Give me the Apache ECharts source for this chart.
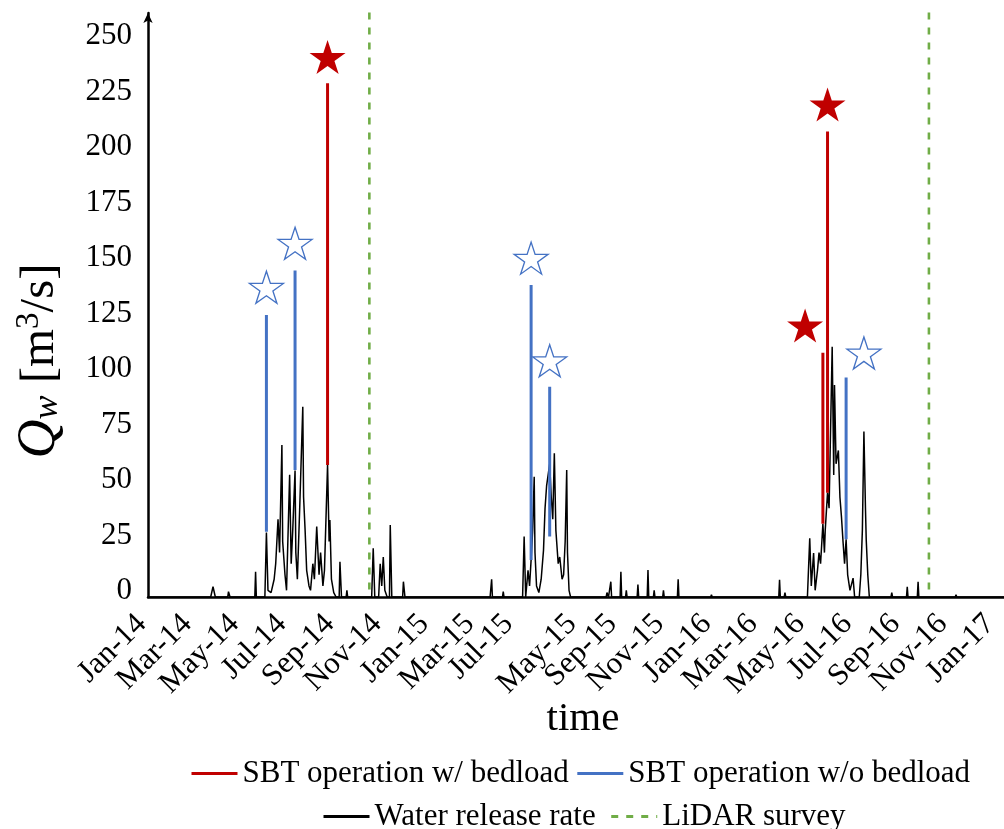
<!DOCTYPE html>
<html>
<head>
<meta charset="utf-8">
<script src="https://cdn.jsdelivr.net/npm/echarts@6/dist/echarts.min.js"></script>
<style>
  html, body { margin: 0; padding: 0; background: #fff; }
  #chart { width: 1004px; height: 829px; }
</style>
</head>
<body>
<div id="chart"></div>
<script>
// ---------------- DATA ----------------
const tickLabels = ['Jan-14','Mar-14','May-14','Jul-14','Sep-14','Nov-14','Jan-15','Mar-15','Jul-15','May-15','Sep-15','Nov-15','Jan-16','Mar-16','May-16','Jul-16','Sep-16','Nov-16','Jan-17'];
const tickDates = ['2014-01-01','2014-03-01','2014-05-01','2014-07-01','2014-09-01','2014-11-01','2015-01-01','2015-03-01','2015-04-20','2015-07-11','2015-09-01','2015-11-01','2016-01-01','2016-03-01','2016-05-01','2016-07-01','2016-09-01','2016-11-01','2017-01-01'];
const yTickValues = [0, 25, 50, 75, 100, 125, 150, 175, 200, 225, 250];

// Water release rate (m3/s)
const waterDates = [
 '2014-01-01','2014-03-23','2014-03-26','2014-03-29','2014-04-14','2014-04-15','2014-04-17','2014-05-19','2014-05-20','2014-05-21',
 '2014-06-01','2014-06-03','2014-06-05','2014-06-09','2014-06-13','2014-06-15','2014-06-18','2014-06-20','2014-06-23','2014-06-24',
 '2014-06-27','2014-06-29','2014-07-03','2014-07-05','2014-07-07','2014-07-10','2014-07-11','2014-07-13','2014-07-16','2014-07-20',
 '2014-07-21','2014-07-23','2014-07-25','2014-07-28','2014-07-30','2014-08-02','2014-08-04','2014-08-07','2014-08-10','2014-08-12',
 '2014-08-15','2014-08-17','2014-08-21','2014-08-23','2014-08-24','2014-08-26','2014-08-29','2014-09-01','2014-09-05','2014-09-06',
 '2014-09-08','2014-09-14','2014-09-15','2014-09-16','2014-10-17','2014-10-19','2014-10-21','2014-10-26','2014-10-28','2014-10-30',
 '2014-11-01','2014-11-03','2014-11-06','2014-11-09','2014-11-10','2014-11-12','2014-11-26','2014-11-27','2014-11-29',
 '2015-03-19','2015-03-21','2015-03-22','2015-04-04','2015-04-05','2015-04-06','2015-04-30','2015-05-02','2015-05-04','2015-05-07',
 '2015-05-09','2015-05-11','2015-05-13','2015-05-15','2015-05-16','2015-05-18','2015-05-21','2015-05-24','2015-05-27','2015-05-29',
 '2015-05-31','2015-06-04','2015-06-06','2015-06-08','2015-06-10','2015-06-12','2015-06-13','2015-06-15','2015-06-17','2015-06-20',
 '2015-06-22','2015-06-24','2015-06-26','2015-06-27','2015-06-29','2015-07-01','2015-08-16','2015-08-17','2015-08-19','2015-08-21',
 '2015-08-22','2015-08-23','2015-09-03','2015-09-04','2015-09-05','2015-09-10','2015-09-11','2015-09-12','2015-09-25','2015-09-26',
 '2015-09-27','2015-10-08','2015-10-09','2015-10-10','2015-10-16','2015-10-17','2015-10-18','2015-10-28','2015-10-29','2015-10-30',
 '2015-11-16','2015-11-17','2015-11-18','2015-12-29','2015-12-30','2015-12-31',
 '2016-03-26','2016-03-27','2016-03-28','2016-04-02','2016-04-03','2016-04-04','2016-05-02','2016-05-05','2016-05-07','2016-05-10',
 '2016-05-12','2016-05-15','2016-05-17','2016-05-19','2016-05-22','2016-05-24','2016-05-25','2016-05-28','2016-05-30','2016-05-31',
 '2016-06-03','2016-06-05','2016-06-06','2016-06-08','2016-06-11','2016-06-13','2016-06-15','2016-06-17','2016-06-19','2016-06-21',
 '2016-06-23','2016-06-26','2016-06-30','2016-07-02','2016-07-08','2016-07-10','2016-07-12','2016-07-14','2016-07-16','2016-07-17',
 '2016-07-19','2016-07-21','2016-08-18','2016-08-19','2016-08-20','2016-09-07','2016-09-08','2016-09-09','2016-09-21','2016-09-22',
 '2016-09-23','2016-11-09','2016-11-10','2016-11-11','2017-01-11'
];
const waterValues = [
 0,0,4.6,0,0,2.4,0,0,11.4,0,
 0,29,3,2,8,15,35,20,68.5,25,
 10,3,55,15,30,57,20,8,40,85.7,
 45,30,12,5,3,15,8,31.7,10,20,
 5,12,59.5,25,34.7,8,2,0,0,15.9,
 0,0,3,0,0,21.9,0,0,15,5,
 18,3,0,0,32.4,0,0,6.9,0,
 0,8,0,0,2.4,0,0,27.2,0,12,
 5,16.7,30,54.2,20,5,2,8,21,40,
 50,60,45,35,64.7,30,25,15,18,8,
 10,25,57.2,20,3,0,0,2,0,0,
 6.9,0,0,11.4,0,0,3,0,0,5.6,
 0,0,12.2,0,0,3,0,0,3,0,
 0,8,0,0,1,0,
 0,7.7,0,0,2,0,0,26.4,5,19.8,
 3,12,20,15,33,20,30,47,40,58.7,
 112.7,55,95.5,60,66,45,36,25,15,26,
 10,3,8.5,0,0,10,30,74.5,40,25.7,
 10,0,0,2,0,0,4.6,0,0,6.9,
 0,0,1,0,0
];

// SBT operation with bedload (vertical bars: low -> high) and star markers
const bedloadDates = ['2014-08-21','2016-05-22','2016-05-28'];
const bedloadLow   = [59.5, 33, 47];
const bedloadHigh  = [231.4, 110, 209.6];
const bedloadStarDates  = ['2014-08-21','2016-04-29','2016-05-28'];
const bedloadStarValues = [243.2, 122.3, 221.8];

// SBT operation without bedload
const noBedloadDates = ['2014-06-03','2014-07-10','2015-05-11','2015-06-04','2016-06-21'];
const noBedloadLow   = [29.4, 57.2, 16.7, 27.2, 26];
const noBedloadHigh  = [127, 147, 140.5, 94.7, 98.8];
const noBedloadStarDates  = ['2014-06-03','2014-07-10','2015-05-11','2015-06-04','2016-07-14'];
const noBedloadStarValues = [139.5, 159.3, 152.6, 106.4, 109.9];

// LiDAR surveys
const lidarDates = ['2014-10-14','2016-10-06'];
const lidarTop = 263.2;

// ---------------- HELPERS ----------------
function ts(s) { const p = s.split('-').map(Number); return Date.UTC(p[0], p[1] - 1, p[2]); }
function segments(dates, lows, highs) {
  const out = [];
  dates.forEach((d, i) => { const t = ts(d); out.push([t, lows[i]], [t, highs[i]], [t, '-']); });
  return out;
}
function starPath() {
  let s = 'path://';
  for (let i = 0; i < 10; i++) {
    const r = i % 2 ? 0.382 : 1;
    const a = (-90 + i * 36) * Math.PI / 180;
    s += (i ? 'L' : 'M') + (r * Math.cos(a)).toFixed(4) + ' ' + (r * Math.sin(a)).toFixed(4) + ' ';
  }
  return s + 'Z';
}
const STAR = starPath();
const tickTimes = tickDates.map(ts);
const FONT = '"Liberation Serif", "Times New Roman", serif';

const waterData = waterDates.map((d, i) => [ts(d), waterValues[i]]);
const lidarData = [];
lidarDates.forEach(d => { const t = ts(d); lidarData.push([t, lidarTop], [t, 0], [t, '-']); });

const legendCommon = {
  itemWidth: 46, itemHeight: 4, padding: 0,
  textStyle: { fontFamily: FONT, fontSize: 31, color: '#000' },
  lineStyle: { width: 3 },
  itemStyle: { opacity: 0 }
};

const chart = echarts.init(document.getElementById('chart'), null, { renderer: 'canvas' });
chart.setOption({
  animation: false,
  backgroundColor: '#fff',
  grid: { left: 148, right: 0, top: 13, bottom: 232, containLabel: false, outerBoundsMode: 'none' },
  xAxis: {
    type: 'value',
    min: ts('2014-01-01'),
    max: ts('2017-01-11'),
    splitLine: { show: false },
    axisTick: { show: false },
    axisLine: { show: true, onZero: false, lineStyle: { color: '#000', width: 2.5 } },
    axisLabel: {
      customValues: tickTimes,
      rotate: 45,
      margin: 16,
      hideOverlap: false,
      color: '#000',
      fontFamily: FONT,
      fontSize: 31,
      rich: { t: { fontFamily: FONT, fontSize: 31, color: '#000', padding: [0, 9, 0, 0] } },
      formatter: function (v) {
        let best = 0, bd = Infinity;
        tickTimes.forEach((t, i) => { const dd = Math.abs(t - v); if (dd < bd) { bd = dd; best = i; } });
        return '{t|' + tickLabels[best] + '}';
      }
    }
  },
  yAxis: {
    type: 'value',
    min: 0,
    max: 263,
    splitLine: { show: false },
    axisTick: { show: false },
    axisLine: { show: true, onZero: false, symbol: ['none', 'arrow'], symbolSize: [7, 10], lineStyle: { color: '#000', width: 2.5 } },
    axisLabel: {
      customValues: yTickValues,
      color: '#000',
      fontFamily: FONT,
      fontSize: 31,
      margin: 16,
      rich: { n: { fontFamily: FONT, fontSize: 31, color: '#000', padding: [0, 0, 12, 0] } },
      formatter: function (v) { return '{n|' + v + '}'; }
    }
  },
  legend: [
    Object.assign({ left: 190, top: 758, itemGap: 7, data: ['SBT operation w/ bedload', 'SBT operation w/o bedload'] }, legendCommon),
    Object.assign({ left: 322, top: 801, itemGap: 14, data: ['Water release rate', 'LiDAR survey'] }, legendCommon)
  ],
  graphic: [
    { type: 'text', x: 583, y: 719, style: { text: 'time', font: '41px ' + FONT, fill: '#000', align: 'center', verticalAlign: 'middle' } },
    {
      type: 'text', x: 40, y: 361, rotation: Math.PI / 2,
      style: {
        text: '{q|Q}{w|w} [m{s|3}/s]',
        font: '49px ' + FONT, fill: '#000', align: 'center', verticalAlign: 'middle',
        rich: {
          q: { fontSize: 54, fontStyle: 'italic', fontFamily: FONT },
          w: { fontSize: 36, fontStyle: 'italic', fontFamily: FONT, padding: [16, 0, 0, 0] },
          s: { fontSize: 33, fontFamily: FONT, padding: [0, 0, 22, 0] }
        }
      }
    }
  ],
  series: [
    {
      name: 'LiDAR survey', type: 'line', data: lidarData, symbol: 'none', connectNulls: false,
      lineStyle: { color: '#70ad47', width: 2.6, type: [7, 8] }, itemStyle: { color: '#70ad47' }, z: 1
    },
    {
      name: 'Water release rate', type: 'line', data: waterData, symbol: 'none',
      lineStyle: { color: '#000', width: 1.5 }, itemStyle: { color: '#000' }, z: 2
    },
    {
      name: 'SBT operation w/o bedload', type: 'line', data: segments(noBedloadDates, noBedloadLow, noBedloadHigh),
      symbol: 'none', connectNulls: false, lineStyle: { color: '#4472c4', width: 3 }, itemStyle: { color: '#4472c4' }, z: 3
    },
    {
      name: 'SBT operation w/ bedload', type: 'line', data: segments(bedloadDates, bedloadLow, bedloadHigh),
      symbol: 'none', connectNulls: false, lineStyle: { color: '#c00000', width: 3 }, itemStyle: { color: '#c00000' }, z: 3
    },
    {
      name: 'stars w/o bedload', type: 'scatter', symbol: STAR, symbolSize: [34, 32],
      data: noBedloadStarDates.map((d, i) => [ts(d), noBedloadStarValues[i]]),
      itemStyle: { color: '#fff', borderColor: '#4472c4', borderWidth: 1.3, opacity: 1 }, z: 4
    },
    {
      name: 'stars w/ bedload', type: 'scatter', symbol: STAR, symbolSize: [36, 34],
      data: bedloadStarDates.map((d, i) => [ts(d), bedloadStarValues[i]]),
      itemStyle: { color: '#c00000', opacity: 1 }, z: 4
    }
  ]
});
</script>
</body>
</html>
